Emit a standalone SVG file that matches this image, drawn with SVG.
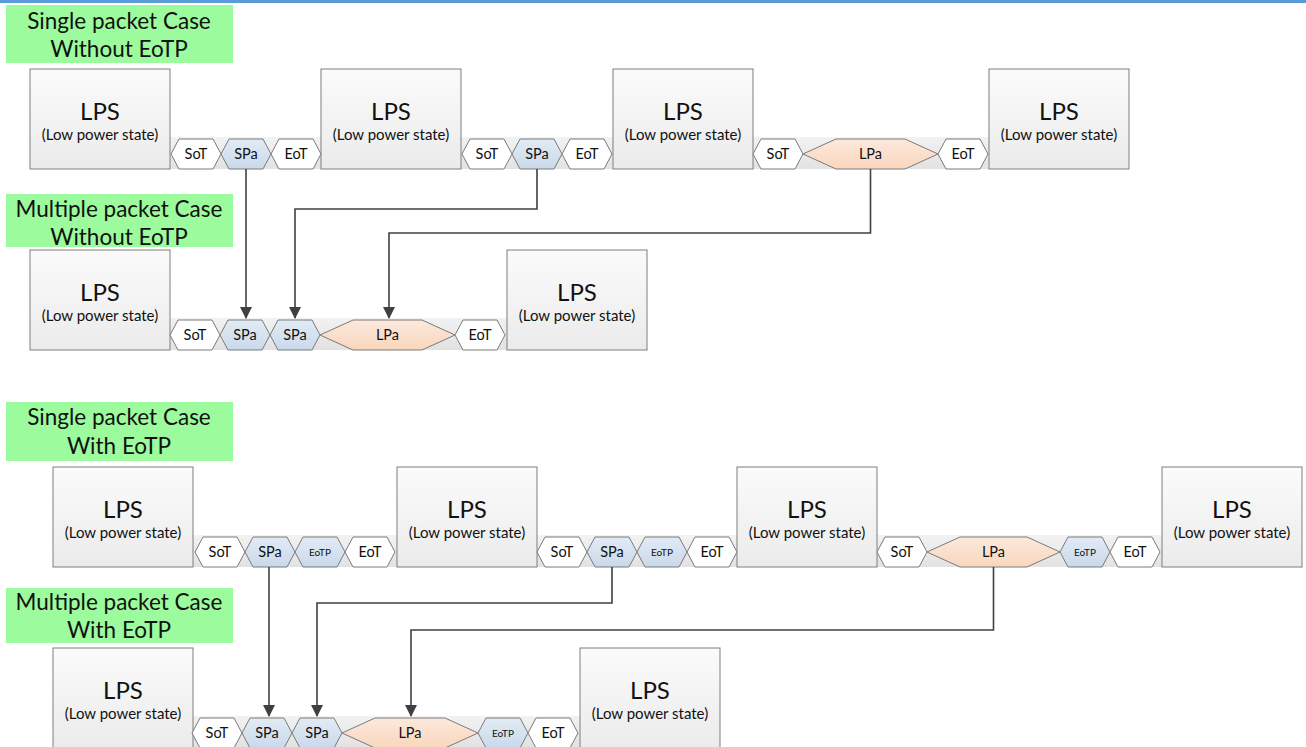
<svg xmlns="http://www.w3.org/2000/svg" width="1306" height="747" viewBox="0 0 1306 747">
  <defs>
    <linearGradient id="boxFill" x1="0" y1="0" x2="0" y2="1">
      <stop offset="0" stop-color="#fbfbfb"/>
      <stop offset="1" stop-color="#ebebeb"/>
    </linearGradient>
    <linearGradient id="bandFill" x1="0" y1="0" x2="0" y2="1">
      <stop offset="0" stop-color="#f2f2f2"/>
      <stop offset="1" stop-color="#e2e2e2"/>
    </linearGradient>
    <linearGradient id="blueFill" x1="0" y1="0" x2="0" y2="1">
      <stop offset="0" stop-color="#e2ebf5"/>
      <stop offset="1" stop-color="#c9d9ea"/>
    </linearGradient>
    <linearGradient id="peachFill" x1="0" y1="0" x2="0" y2="1">
      <stop offset="0" stop-color="#fce9dc"/>
      <stop offset="1" stop-color="#f9d6bd"/>
    </linearGradient>
    <marker id="arrow" markerUnits="userSpaceOnUse" markerWidth="12" markerHeight="12" viewBox="0 0 12 12" refX="11" refY="6" orient="auto">
      <path d="M0,0 L12,6 L0,12 Z" fill="#404040"/>
    </marker>
    <style>
      text { font-family: Lato, "Liberation Sans", sans-serif; fill: #111; text-anchor: middle; }
      .case rect { fill: #9cfb9c; }
      .case text { font-size: 22.5px; }
      .lps rect { fill: url(#boxFill); stroke: #7f7f7f; stroke-width: 1; }
      .lps .big { font-size: 24px; }
      .lps .small { font-size: 15px; }
      .band { fill: url(#bandFill); }
      .hex polygon { stroke: #7a7a7a; stroke-width: 1; }
      .hex.t polygon { fill: #ffffff; }
      .hex.s polygon { fill: url(#blueFill); }
      .hex.l polygon { fill: url(#peachFill); }
      .hex text { font-size: 14.5px; }
      .hex.e text { font-size: 10px; }
      #connectors path { fill: none; stroke: #404040; stroke-width: 1.6; marker-end: url(#arrow); }
    </style>
  </defs>

  <rect x="0" y="0" width="1306" height="747" fill="#ffffff"/>
  <!-- page rule along the top edge -->
  <rect x="0" y="0" width="1306" height="3" fill="#5b9bd5"/>

  <!-- case titles -->
  <g id="title1" class="case"><rect x="6" y="5" width="227" height="58"/>
    <text x="119" y="29">Single packet Case</text><text x="119" y="57">Without EoTP</text></g>
  <g id="title2" class="case"><rect x="6" y="194" width="227" height="53"/>
    <text x="119" y="217">Multiple packet Case</text><text x="119" y="245">Without EoTP</text></g>
  <g id="title3" class="case"><rect x="6" y="402" width="227" height="59"/>
    <text x="119" y="425">Single packet Case</text><text x="119" y="454">With EoTP</text></g>
  <g id="title4" class="case"><rect x="6" y="588" width="227" height="55"/>
    <text x="119" y="610">Multiple packet Case</text><text x="119" y="638">With EoTP</text></g>

  <!-- transmission bands between low power states -->
  <g id="bands">
    <rect class="band" x="170" y="137" width="151" height="32"/>
    <rect class="band" x="461" y="137" width="152" height="32"/>
    <rect class="band" x="753" y="137" width="236" height="32"/>
    <rect class="band" x="170" y="318" width="337" height="32"/>
    <rect class="band" x="193" y="535" width="204" height="32"/>
    <rect class="band" x="537" y="535" width="200" height="32"/>
    <rect class="band" x="877" y="535" width="285" height="32"/>
    <rect class="band" x="193" y="716" width="387" height="31"/>
  </g>

  <!-- row 1: single packet, without EoTP -->
  <g id="r1-lps1" class="lps"><rect x="30" y="69" width="140" height="100"/><text class="big" x="100" y="120">LPS</text><text class="small" x="100" y="140">(Low power state)</text></g>
  <g id="r1-lps2" class="lps"><rect x="321" y="69" width="140" height="100"/><text class="big" x="391" y="120">LPS</text><text class="small" x="391" y="140">(Low power state)</text></g>
  <g id="r1-lps3" class="lps"><rect x="613" y="69" width="140" height="100"/><text class="big" x="683" y="120">LPS</text><text class="small" x="683" y="140">(Low power state)</text></g>
  <g id="r1-lps4" class="lps"><rect x="989" y="69" width="140" height="100"/><text class="big" x="1059" y="120">LPS</text><text class="small" x="1059" y="140">(Low power state)</text></g>

  <g id="r1-sot1" class="hex t"><polygon points="171,154 179,139 213,139 221,154 213,169 179,169"/><text x="196" y="159">SoT</text></g>
  <g id="r1-spa1" class="hex s"><polygon points="221,154 229,139 263,139 271,154 263,169 229,169"/><text x="246" y="159">SPa</text></g>
  <g id="r1-eot1" class="hex t"><polygon points="271,154 279,139 313,139 321,154 313,169 279,169"/><text x="296" y="159">EoT</text></g>

  <g id="r1-sot2" class="hex t"><polygon points="462,154 470,139 504,139 512,154 504,169 470,169"/><text x="487" y="159">SoT</text></g>
  <g id="r1-spa2" class="hex s"><polygon points="512,154 520,139 554,139 562,154 554,169 520,169"/><text x="537" y="159">SPa</text></g>
  <g id="r1-eot2" class="hex t"><polygon points="562,154 570,139 604,139 612,154 604,169 570,169"/><text x="587" y="159">EoT</text></g>

  <g id="r1-sot3" class="hex t"><polygon points="753,154 761,139 795,139 803,154 795,169 761,169"/><text x="778" y="159">SoT</text></g>
  <g id="r1-lpa" class="hex l"><polygon points="803,154 836,139 905,139 938,154 905,169 836,169"/><text x="870.5" y="159">LPa</text></g>
  <g id="r1-eot3" class="hex t"><polygon points="938,154 946,139 980,139 988,154 980,169 946,169"/><text x="963" y="159">EoT</text></g>

  <!-- row 2: multiple packets, without EoTP -->
  <g id="r2-lps1" class="lps"><rect x="30" y="250" width="140" height="100"/><text class="big" x="100" y="301">LPS</text><text class="small" x="100" y="321">(Low power state)</text></g>
  <g id="r2-lps2" class="lps"><rect x="507" y="250" width="140" height="100"/><text class="big" x="577" y="301">LPS</text><text class="small" x="577" y="321">(Low power state)</text></g>

  <g id="r2-sot" class="hex t"><polygon points="170,335 178,320 212,320 220,335 212,350 178,350"/><text x="195" y="340">SoT</text></g>
  <g id="r2-spa1" class="hex s"><polygon points="220,335 228,320 262,320 270,335 262,350 228,350"/><text x="245" y="340">SPa</text></g>
  <g id="r2-spa2" class="hex s"><polygon points="270,335 278,320 312,320 320,335 312,350 278,350"/><text x="295" y="340">SPa</text></g>
  <g id="r2-lpa" class="hex l"><polygon points="320,335 353,320 422,320 455,335 422,350 353,350"/><text x="387.5" y="340">LPa</text></g>
  <g id="r2-eot" class="hex t"><polygon points="455,335 463,320 497,320 505,335 497,350 463,350"/><text x="480" y="340">EoT</text></g>

  <!-- row 3: single packet, with EoTP -->
  <g id="r3-lps1" class="lps"><rect x="53" y="467" width="140" height="100"/><text class="big" x="123" y="518">LPS</text><text class="small" x="123" y="538">(Low power state)</text></g>
  <g id="r3-lps2" class="lps"><rect x="397" y="467" width="140" height="100"/><text class="big" x="467" y="518">LPS</text><text class="small" x="467" y="538">(Low power state)</text></g>
  <g id="r3-lps3" class="lps"><rect x="737" y="467" width="140" height="100"/><text class="big" x="807" y="518">LPS</text><text class="small" x="807" y="538">(Low power state)</text></g>
  <g id="r3-lps4" class="lps"><rect x="1162" y="467" width="140" height="100"/><text class="big" x="1232" y="518">LPS</text><text class="small" x="1232" y="538">(Low power state)</text></g>

  <g id="r3-sot1" class="hex t"><polygon points="195,552 203,537 237,537 245,552 237,567 203,567"/><text x="220" y="557">SoT</text></g>
  <g id="r3-spa1" class="hex s"><polygon points="245,552 253,537 287,537 295,552 287,567 253,567"/><text x="270" y="557">SPa</text></g>
  <g id="r3-eotp1" class="hex s e"><polygon points="295,552 303,537 337,537 345,552 337,567 303,567"/><text x="320" y="555.5">EoTP</text></g>
  <g id="r3-eot1" class="hex t"><polygon points="345,552 353,537 387,537 395,552 387,567 353,567"/><text x="370" y="557">EoT</text></g>

  <g id="r3-sot2" class="hex t"><polygon points="537,552 545,537 579,537 587,552 579,567 545,567"/><text x="562" y="557">SoT</text></g>
  <g id="r3-spa2" class="hex s"><polygon points="587,552 595,537 629,537 637,552 629,567 595,567"/><text x="612" y="557">SPa</text></g>
  <g id="r3-eotp2" class="hex s e"><polygon points="637,552 645,537 679,537 687,552 679,567 645,567"/><text x="662" y="555.5">EoTP</text></g>
  <g id="r3-eot2" class="hex t"><polygon points="687,552 695,537 729,537 737,552 729,567 695,567"/><text x="712" y="557">EoT</text></g>

  <g id="r3-sot3" class="hex t"><polygon points="877,552 885,537 919,537 927,552 919,567 885,567"/><text x="902" y="557">SoT</text></g>
  <g id="r3-lpa" class="hex l"><polygon points="927,552 960,537 1027,537 1060,552 1027,567 960,567"/><text x="993.5" y="557">LPa</text></g>
  <g id="r3-eotp3" class="hex s e"><polygon points="1060,552 1068,537 1102,537 1110,552 1102,567 1068,567"/><text x="1085" y="555.5">EoTP</text></g>
  <g id="r3-eot3" class="hex t"><polygon points="1110,552 1118,537 1152,537 1160,552 1152,567 1118,567"/><text x="1135" y="557">EoT</text></g>

  <!-- row 4: multiple packets, with EoTP -->
  <g id="r4-lps1" class="lps"><rect x="53" y="648" width="140" height="100"/><text class="big" x="123" y="699">LPS</text><text class="small" x="123" y="719">(Low power state)</text></g>
  <g id="r4-lps2" class="lps"><rect x="580" y="648" width="140" height="100"/><text class="big" x="650" y="699">LPS</text><text class="small" x="650" y="719">(Low power state)</text></g>

  <g id="r4-sot" class="hex t"><polygon points="192,733 200,718 234,718 242,733 234,748 200,748"/><text x="217" y="738">SoT</text></g>
  <g id="r4-spa1" class="hex s"><polygon points="242,733 250,718 284,718 292,733 284,748 250,748"/><text x="267" y="738">SPa</text></g>
  <g id="r4-spa2" class="hex s"><polygon points="292,733 300,718 334,718 342,733 334,748 300,748"/><text x="317" y="738">SPa</text></g>
  <g id="r4-lpa" class="hex l"><polygon points="342,733 375,718 445,718 478,733 445,748 375,748"/><text x="410" y="738">LPa</text></g>
  <g id="r4-eotp" class="hex s e"><polygon points="478,733 486,718 520,718 528,733 520,748 486,748"/><text x="503" y="736.5">EoTP</text></g>
  <g id="r4-eot" class="hex t"><polygon points="528,733 536,718 570,718 578,733 570,748 536,748"/><text x="553" y="738">EoT</text></g>

  <!-- packet mapping from single-packet rows into the combined rows -->
  <g id="connectors">
    <path d="M246,169 V318"/>
    <path d="M537,169 V209 H295 V318"/>
    <path d="M870.5,169 V233 H389 V318"/>
    <path d="M269,567 V716"/>
    <path d="M612,567 V603 H317 V716"/>
    <path d="M993.5,567 V630 H411 V716"/>
  </g>
</svg>
